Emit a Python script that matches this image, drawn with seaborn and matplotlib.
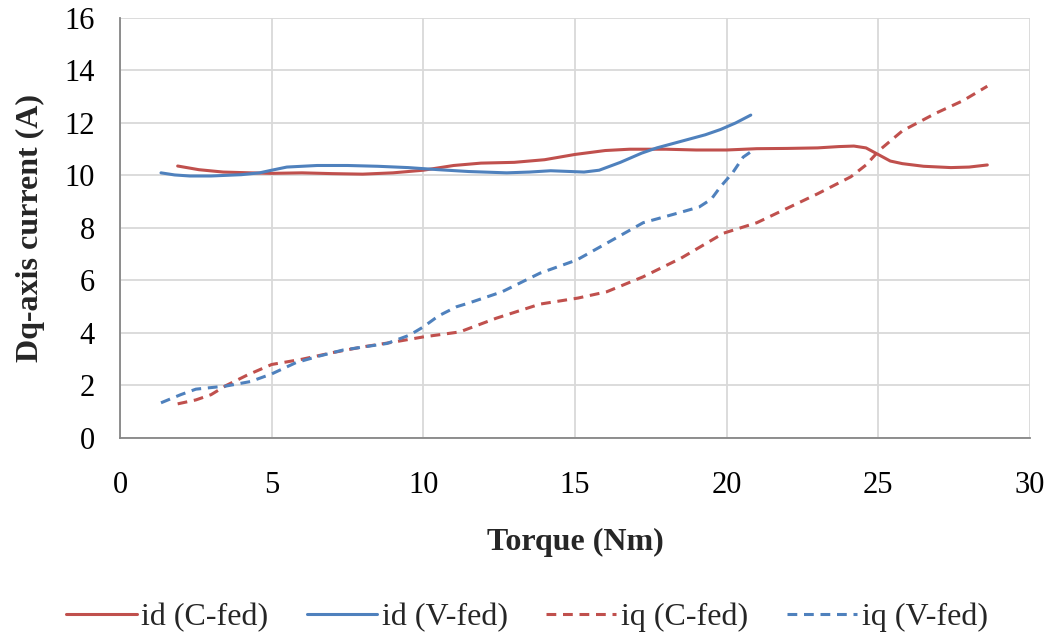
import matplotlib
matplotlib.use("Agg")
import matplotlib.pyplot as plt
import seaborn as sns
import numpy as np

# id (C-fed)
id_c_x = [1.9, 2.6, 3.4, 4.3, 5.0, 6.0, 7.0, 8.0, 9.0, 10.0, 11.0, 11.9, 13.0, 14.0, 15.0, 16.0, 16.8, 18.0, 19.0, 20.0, 21.0, 22.0, 23.0, 23.7, 24.2, 24.6, 25.0, 25.4, 25.8, 26.5, 27.4, 28.0, 28.6]
id_c_y = [10.36, 10.22, 10.13, 10.1, 10.08, 10.1, 10.07, 10.05, 10.1, 10.2, 10.38, 10.47, 10.5, 10.6, 10.8, 10.95, 11.0, 11.0, 10.97, 10.97, 11.02, 11.03, 11.05, 11.1, 11.12, 11.05, 10.8, 10.55, 10.45, 10.35, 10.3, 10.32, 10.4]

# id (V-fed)
id_v_x = [1.35, 1.8, 2.3, 3.0, 4.0, 4.6, 5.0, 5.5, 6.5, 7.5, 8.5, 9.5, 10.5, 11.5, 12.75, 13.5, 14.2, 15.3, 15.8, 16.5, 17.2, 17.7, 18.5, 19.3, 19.8, 20.3, 20.8]
id_v_y = [10.1, 10.02, 9.98, 9.98, 10.03, 10.1, 10.2, 10.32, 10.38, 10.38, 10.35, 10.3, 10.22, 10.15, 10.1, 10.13, 10.18, 10.13, 10.2, 10.5, 10.85, 11.05, 11.3, 11.55, 11.75, 12.0, 12.3]

# iq (C-fed)
iq_c_x = [1.9, 2.5, 3.0, 3.5, 4.2, 5.0, 6.0, 7.0, 8.0, 9.0, 10.0, 11.2, 12.4, 13.85, 15.1, 16.05, 17.25, 18.5, 19.9, 21.0, 22.0, 23.0, 24.1, 24.6, 25.05, 25.8, 26.9, 27.8, 28.6]
iq_c_y = [1.3, 1.45, 1.65, 2.0, 2.4, 2.8, 3.0, 3.25, 3.47, 3.65, 3.85, 4.04, 4.56, 5.1, 5.33, 5.57, 6.14, 6.85, 7.8, 8.2, 8.75, 9.3, 9.95, 10.4, 10.97, 11.7, 12.37, 12.85, 13.4]

# iq (V-fed)
iq_v_x = [1.35, 2.0, 2.5, 3.5, 4.3, 5.0, 5.8, 6.5, 7.35, 8.8, 9.55, 10.0, 10.5, 11.1, 11.5, 12.6, 13.85, 15.06, 16.05, 17.25, 18.5, 19.1, 19.5, 19.8, 20.2, 20.55, 20.8]
iq_v_y = [1.34, 1.65, 1.86, 1.98, 2.15, 2.44, 2.87, 3.1, 3.35, 3.6, 3.92, 4.23, 4.65, 5.0, 5.14, 5.57, 6.28, 6.78, 7.42, 8.2, 8.6, 8.8, 9.1, 9.57, 10.1, 10.7, 10.9]

labels = ["id (C-fed)", "id (V-fed)", "iq (C-fed)", "iq (V-fed)"]
x_ticks = [0, 5, 10, 15, 20, 25, 30]
y_ticks = [0, 2, 4, 6, 8, 10, 12, 14, 16]

sns.set_theme(style="white")
plt.rcParams['font.family'] = ['Liberation Serif', 'DejaVu Serif']

red = "#C0504D"
blue = "#4F81BD"

fig = plt.figure(figsize=(10.54, 6.41), dpi=100)
ax = fig.add_axes([0.1139, 0.3167, 0.8631, 0.6553])

lw = 2.2
series = [
    (id_c_x, id_c_y, red, "-"),
    (id_v_x, id_v_y, blue, "-"),
    (iq_c_x, iq_c_y, red, "--"),
    (iq_v_x, iq_v_y, blue, "--"),
]
for (xs, ys, c, ls), lab in zip(series, labels):
    sns.lineplot(x=xs, y=ys, ax=ax, color=c, linewidth=lw, sort=False,
                 estimator=None, label=lab, legend=False)
    if ls == "--":
        ax.lines[-1].set_dashes((3.2, 2.2))

ax.set_xlim(0, 30)
ax.set_ylim(0, 16)
ax.set_xticks(x_ticks)
ax.set_yticks(y_ticks)
ax.grid(True, color="#D9D9D9", linewidth=1.3)
for s in ["top", "right"]:
    ax.spines[s].set_visible(False)
for s in ["left", "bottom"]:
    ax.spines[s].set_color("#868686")
    ax.spines[s].set_linewidth(1.3)
ax.tick_params(axis="both", which="major", direction="out", length=6, width=1.3,
               color="#868686", labelsize=22, labelcolor="black")
ax.tick_params(axis="x", pad=18)
ax.tick_params(axis="y", pad=12)
ax.set_axisbelow(True)

ax.set_xlabel("Torque (Nm)", fontsize=23, fontweight="bold", labelpad=20)
ax.set_ylabel("Dq-axis current (A)", fontsize=23, fontweight="bold", labelpad=14)

handles = ax.lines[:4]
leg = fig.legend(handles, labels, loc="center", bbox_to_anchor=(0.5, 0.037), ncol=4,
                 frameon=False, fontsize=23, handlelength=2.2, columnspacing=1.2,
                 handletextpad=0.15)

fig.savefig("out.png", dpi=100)
